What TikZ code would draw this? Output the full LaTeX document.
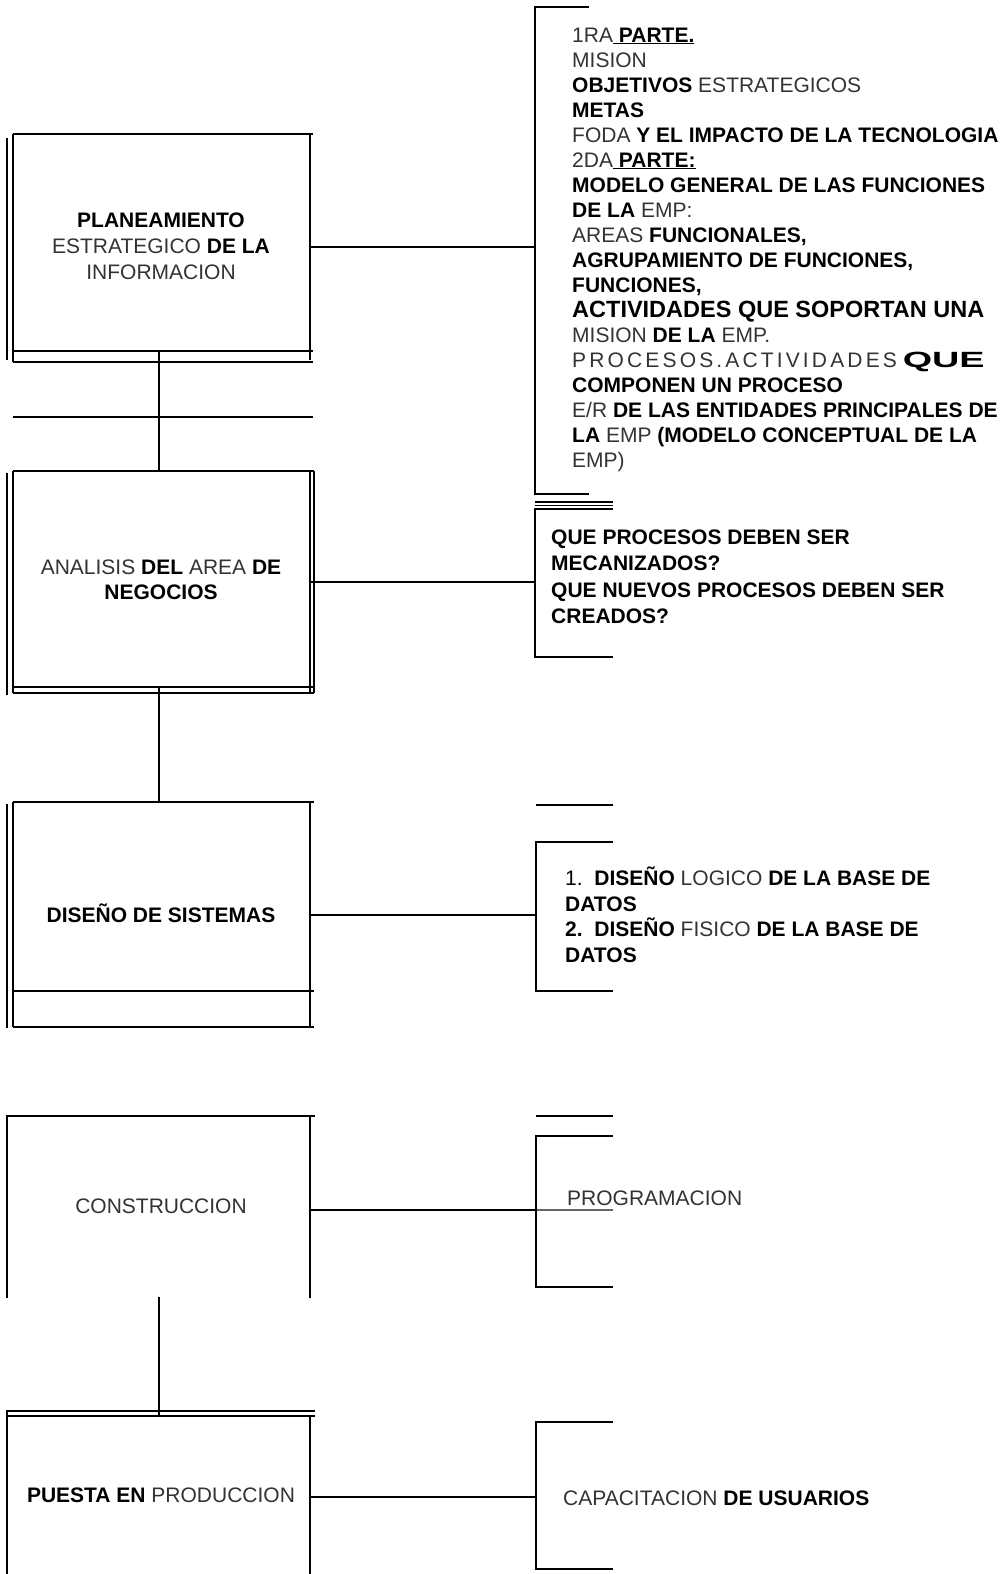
\documentclass[tikz,border=0pt]{standalone}
\usepackage{fontspec}
\setmainfont{Liberation Sans}
\newcommand{\gw}[1]{{\mdseries\color{black!80}#1}}
\newcommand{\gws}[1]{{\mdseries\addfontfeature{LetterSpace=15}\color{black!80}#1}}
\begin{document}
\begin{tikzpicture}[x=1pt,y=-1pt,
  ln/.style={line width=1.9pt},
  lnt/.style={line width=1.3pt},
  boxtxt/.style={font=\fontsize{21}{26}\selectfont\bfseries, align=center, inner sep=0pt},
  listtxt/.style={font=\fontsize{21}{25}\selectfont\bfseries, align=left, anchor=north west, inner sep=0pt},
  onetxt/.style={font=\fontsize{21}{25}\selectfont\bfseries, anchor=west, inner sep=0pt}]
\fill[white] (0,0) rectangle (1004,1574);
\useasboundingbox (0,0) rectangle (1004,1574);

% ---------- Box 1 ----------
\draw[ln] (13,134) -- (313,134);
\draw[ln] (7,138) -- (7,360);
\draw[ln] (13,134) -- (13,362);
\draw[ln] (310,134) -- (310,360);
\draw[ln] (13,351) -- (313,351);
\draw[ln] (13,362) -- (313,362);
\draw[ln] (13,417) -- (313,417);
\node[boxtxt] (t1) at (161,246) {PLANEAMIENTO\\ \gw{ESTRATEGICO} DE LA\\ \gw{INFORMACION}};

% ---------- Box 2 ----------
\draw[ln] (13,471) -- (314,471);
\draw[ln] (7,473) -- (7,695);
\draw[ln] (13,471) -- (13,693);
\draw[ln] (310,471) -- (310,693);
\draw[lnt] (314,471) -- (314,693);
\draw[ln] (13,687) -- (314,687);
\draw[ln] (13,693) -- (314,693);
\node[boxtxt,font=\fontsize{21}{25}\selectfont\bfseries] (t2) at (161,580) {\gw{ANALISIS} DEL \gw{AREA} DE\\ NEGOCIOS};

% ---------- Box 3 ----------
\draw[ln] (13,802) -- (314,802);
\draw[ln] (7,804) -- (7,1028);
\draw[ln] (13,802) -- (13,1027);
\draw[ln] (310,802) -- (310,1027);
\draw[ln] (13,991) -- (314,991);
\draw[ln] (13,1027) -- (314,1027);
\node[boxtxt] (t3) at (161,913) {DISE\~NO DE SISTEMAS};

% ---------- Box 4 ----------
\draw[line width=2.3pt] (7,1116) -- (315,1116);
\draw[ln] (7,1115) -- (7,1298);
\draw[ln] (310,1116) -- (310,1298);
\node[boxtxt] (t4) at (161,1206) {\gw{CONSTRUCCION}};

% ---------- Box 5 ----------
\draw[ln] (7,1411) -- (315,1411);
\draw[ln] (7,1416) -- (315,1416);
\draw[ln] (7,1410) -- (7,1574);
\draw[ln] (310,1416) -- (310,1574);
\node[boxtxt] (t5) at (161,1495) {PUESTA EN \gw{PRODUCCION}};

% ---------- vertical connectors ----------
\coordinate (v1a) at (159,351); \coordinate (v1b) at (159,471);
\coordinate (v2a) at (159,687); \coordinate (v2b) at (159,802);
\coordinate (v3a) at (159,1297); \coordinate (v3b) at (159,1416);
\draw[ln] (v1a) -- (v1b);
\draw[ln] (v2a) -- (v2b);
\draw[ln] (v3a) -- (v3b);

% ---------- horizontal connectors ----------
\coordinate (b1) at (310,247);  \coordinate (k1) at (535,247);
\coordinate (b2) at (310,582);  \coordinate (k2) at (535,582);
\coordinate (b3) at (310,915);  \coordinate (k3) at (536,915);
\coordinate (b4) at (310,1210); \coordinate (k4) at (536,1210);
\coordinate (b5) at (310,1497); \coordinate (k5) at (536,1497);
\draw[ln] (b1) -- (k1);
\draw[ln] (b2) -- (k2);
\draw[ln] (b3) -- (k3);
\draw[ln] (b4) -- (k4);
\draw[ln] (b5) -- (k5);
\draw[lnt,black!60] (k4) -- (613,1210);

% ---------- brackets ----------
\draw[ln] (589,7) -- (535,7) -- (535,494) -- (589,494);
\draw[lnt] (535,502) -- (613,502);
\draw[lnt] (535,505.5) -- (613,505.5);
\draw[ln] (613,509) -- (535,509) -- (535,657) -- (613,657);
\draw[ln] (536,805) -- (613,805);
\draw[ln] (613,842) -- (536,842) -- (536,991) -- (613,991);
\draw[ln] (536,1116) -- (613,1116);
\draw[ln] (613,1136) -- (536,1136) -- (536,1287) -- (613,1287);
\draw[ln] (613,1422) -- (536,1422) -- (536,1569) -- (613,1569);

% ---------- bracket texts ----------
\node[listtxt] (l1) at (572,27.5) {%
\gw{1RA}\underline{\ PARTE.}\\
\gw{MISION}\\
OBJETIVOS \gw{ESTRATEGICOS}\\
METAS\\
\gw{FODA} Y EL IMPACTO DE LA TECNOLOGIA\\
\gw{2DA}\underline{\ PARTE:}\\
MODELO GENERAL DE LAS FUNCIONES\\
DE LA \gw{EMP:}\\
\gw{AREAS} FUNCIONALES,\\
AGRUPAMIENTO DE FUNCIONES,\\
FUNCIONES,\\
{\fontsize{23.5}{25}\selectfont ACTIVIDADES QUE SOPORTAN UNA}\\
\gw{MISION} DE LA \gw{EMP.}\\
\gws{PROCESOS.ACTIVIDADES} \scalebox{1.8}[1.05]{QUE}\\
COMPONEN UN PROCESO\\
\gw{E/R} DE LAS ENTIDADES PRINCIPALES DE\\
LA \gw{EMP} (MODELO CONCEPTUAL DE LA\\
\gw{EMP)}};

\node[listtxt,font=\fontsize{21}{26.5}\selectfont\bfseries] (l2) at (551,529.5) {%
QUE PROCESOS DEBEN SER\\
MECANIZADOS?\\
QUE NUEVOS PROCESOS DEBEN SER\\
CREADOS?};

\node[listtxt,font=\fontsize{21}{25.5}\selectfont\bfseries] (l3) at (565,867) {%
{\mdseries 1.}\ \ DISE\~NO \gw{LOGICO} DE LA BASE DE\\
DATOS\\
2.\ \ DISE\~NO \gw{FISICO} DE LA BASE DE\\
DATOS};

\node[onetxt] (l4) at (567,1198) {\gw{PROGRAMACION}};
\node[onetxt] (l5) at (563,1498) {\gw{CAPACITACION} DE USUARIOS};
\end{tikzpicture}
\end{document}
